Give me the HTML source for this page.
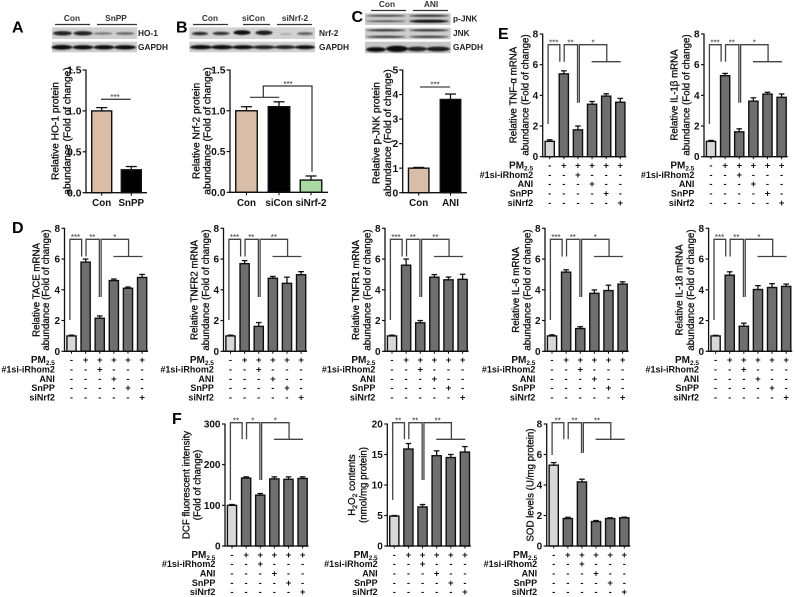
<!DOCTYPE html>
<html>
<head>
<meta charset="utf-8">
<style>
html,body{margin:0;padding:0;background:#fff;}
svg{display:block;filter:blur(0.35px);}
text{font-family:"Liberation Sans",sans-serif;fill:#111;}
</style>
</head>
<body>
<svg id="figure" width="796" height="597" viewBox="0 0 796 597" xmlns="http://www.w3.org/2000/svg">
<defs><filter id="blur" x="-10%" y="-50%" width="120%" height="200%"><feGaussianBlur stdDeviation="0.9"></feGaussianBlur></filter></defs>
</svg>
<script>
// ---- chart data ----
const groupRows = ['PM2.5', '#1si-iRhom2', 'ANI', 'SnPP', 'siNrf2'];
const rowMarks = [
  ['-','+','+','+','+','+'],
  ['-','-','+','-','-','-'],
  ['-','-','-','+','-','-'],
  ['-','-','-','-','+','-'],
  ['-','-','-','-','-','+']
];
const ticks8 = [0, 2, 4, 6, 8];
const ticksDcf = [0, 100, 200, 300];
const ticksH2o2 = [0, 5, 10, 15, 20];

const tnfValues = [1.0, 5.4, 1.75, 3.42, 3.95, 3.55];
const tnfErrors = [0.1, 0.2, 0.25, 0.18, 0.15, 0.25];
const il1Values = [1.0, 5.28, 1.62, 3.62, 4.08, 3.87];
const il1Errors = [0.06, 0.15, 0.2, 0.22, 0.12, 0.22];
const taceValues = [1.0, 5.8, 2.15, 4.6, 4.1, 4.8];
const taceErrors = [0.05, 0.2, 0.15, 0.1, 0.08, 0.2];
const tnfr2Values = [1.0, 5.7, 1.62, 4.75, 4.42, 4.98];
const tnfr2Errors = [0.05, 0.2, 0.25, 0.12, 0.4, 0.2];
const tnfr1Values = [1.0, 5.6, 1.85, 4.82, 4.65, 4.68];
const tnfr1Errors = [0.05, 0.4, 0.15, 0.17, 0.18, 0.33];
const il6Values = [1.0, 5.15, 1.48, 3.77, 3.95, 4.37];
const il6Errors = [0.07, 0.15, 0.12, 0.22, 0.35, 0.15];
const il18Values = [1.0, 4.95, 1.63, 4.02, 4.15, 4.22];
const il18Errors = [0.04, 0.22, 0.2, 0.25, 0.25, 0.15];
const dcfValues = [100, 167, 125, 165, 164, 166];
const dcfErrors = [2, 3, 4, 5, 6, 4];
const h2o2Values = [4.9, 15.9, 6.4, 14.8, 14.5, 15.4];
const h2o2Errors = [0.1, 0.9, 0.4, 0.8, 0.5, 0.9];
const sodValues = [5.3, 1.8, 4.2, 1.6, 1.8, 1.85];
const sodErrors = [0.17, 0.08, 0.18, 0.07, 0.05, 0.04];

const hoCategories = ['Con', 'SnPP'];
const hoValues = [1.0, 0.28];
const hoErrors = [0.04, 0.04];
const hoTicks = ['0.0', '0.5', '1.0', '1.5'];
const nrfCategories = ['Con', 'siCon', 'siNrf-2'];
const nrfValues = [1.0, 1.05, 0.15];
const nrfErrors = [0.05, 0.06, 0.05];
const nrfTicks = ['0.0', '0.5', '1.0', '1.5'];
const jnkCategories = ['Con', 'ANI'];
const jnkValues = [1.0, 3.8];
const jnkErrors = [0.03, 0.22];
const jnkTicks = ['0', '1', '2', '3', '4', '5'];

// ---- helpers ----
const svg = document.getElementById('figure');
const NS = 'http://www.w3.org/2000/svg';
function mk(tag, attrs, name, parent) {
  const e = document.createElementNS(NS, tag);
  for (const k in attrs) e.setAttribute(k, attrs[k]);
  
  
  (parent || svg).appendChild(e);
  return e;
}
function line(x1, y1, x2, y2, color, w, name, parent) {
  return mk('line', {x1, y1, x2, y2, stroke: color, 'stroke-width': w}, name, parent);
}
function text(str, x, y, size, weight, anchor, name, parent, color) {
  const t = mk('text', {x, y, 'font-size': size, 'font-weight': weight, 'text-anchor': anchor}, name, parent);
  if (color) t.setAttribute('style', 'fill:' + color);
  t.textContent = str;
  return t;
}
function vtitle(parts, x, y, size, name) {
  const t = mk('text', {transform: 'translate(' + x + ',' + y + ') rotate(-90)', 'font-size': size, 'text-anchor': 'middle', dy: '0.35em', stroke: '#111', 'stroke-width': 0.3}, name);
  parts.forEach(function (p) {
    const s = document.createElementNS(NS, 'tspan');
    
    
    if (p[1] === 'sub') { s.setAttribute('font-size', size * 0.7); s.setAttribute('dy', '2'); }
    if (p[1] === 'up') { s.setAttribute('dy', '-2'); }
    s.textContent = p[0];
    t.appendChild(s);
  });
  return t;
}

// ---- six-group mRNA style charts ----
const GROUP_STEP = 14.12;
function groupChart(c) {
  const g = mk('g', {}, c.id + '-chart');
  const yAt = function (v) { return c.base - v / c.max * (c.base - c.top); };
  const xAt = function (i) { return c.axis + 7 + i * GROUP_STEP; };
  const right = xAt(5) + 6;
  c.values.forEach(function (v, i) {
    const top = yAt(v), x = xAt(i);
    const er = yAt(v + c.errors[i]);
    line(x, top, x, er, '#111', 1.3, c.id + '-error-stem-' + i, g);
    line(x - 2.8, er, x + 2.8, er, '#111', 1.3, c.id + '-error-cap-' + i, g);
    mk('rect', {x: x - 4.6, y: top, width: 9.2, height: c.base - top, fill: i === 0 ? '#d8d8d8' : '#6f6f6f', stroke: '#111', 'stroke-width': 1.4}, c.id + '-bar-' + i, g);
    line(x, c.base, x, c.base + 2.5, '#111', 1, c.id + '-x-tick-' + i, g);
  });
  line(c.axis, c.top - 0.5, c.axis, c.base + 0.6, '#111', 1.3, c.id + '-y-axis', g);
  line(c.axis - 0.6, c.base, right, c.base, '#111', 1.3, c.id + '-x-axis', g);
  c.ticks.forEach(function (t) {
    const y = yAt(t);
    line(c.axis - 3, y, c.axis, y, '#111', 1.2, c.id + '-y-tick-' + t, g);
    text(String(t), c.axis - 4.5, y + 3.5, 10, 'bold', 'end', c.id + '-y-label-' + t, g);
  });
  // group rows
  groupRows.forEach(function (label, r) {
    const ry = c.base + 8.6 + r * 9.35;
    const t = text('', c.axis - 9.6, ry + 3.2, 9, 'bold', 'end', c.id + '-row-label-' + r, g);
    if (r === 0) {
      t.setAttribute('font-size', '10');
      t.textContent = 'PM';
      const s = document.createElementNS(NS, 'tspan');
      
      
      s.setAttribute('font-size', '6.5');
      s.setAttribute('dy', '2');
      s.textContent = '2.5';
      t.appendChild(s);
    } else {
      t.textContent = label;
    }
    rowMarks[r].forEach(function (m, i) {
      text(m, xAt(i), ry + 3.2, 9.5, 'bold', 'middle', c.id + '-row-' + r + '-mark-' + i, g);
    });
  });
  // significance brackets
  const bt = c.bTop, col = '#444';
  const b = c.br;
  const path = 'M' + (xAt(0) - 1.6) + ' ' + b[0] + 'V' + bt + 'H' + (xAt(1) - 4) + 'V' + b[1] +
    'M' + (xAt(1) + 0.4) + ' ' + b[1] + 'V' + bt + 'H' + (xAt(2) - 0.4) + 'V' + b[2] +
    'M' + (xAt(2) + 1.4) + ' ' + b[2] + 'V' + bt + 'H' + (xAt(4) + 0.6) + 'V' + b[1] +
    'M' + (xAt(3) - 0.4) + ' ' + b[1] + 'H' + (xAt(5) + 0.4);
  mk('path', {d: path, fill: 'none', stroke: col, 'stroke-width': 1.3}, c.id + '-significance-brackets', g);
  const sx = [xAt(0) + 4, xAt(1) + 6.7, xAt(3) + 1];
  c.stars.forEach(function (s, i) {
    text(s, sx[i], bt + 0.6, 8, 'normal', 'middle', c.id + '-stars-' + i, g, '#333');
  });
  // titles
  const mid = c.titleY;
  c.titles.forEach(function (parts, i) {
    vtitle(parts, c.axis + c.titleX[i], mid, 9.7, c.id + '-y-title-' + i);
  });
}
const row1 = {top: 228.3, base: 351.3, bTop: 239.3, br: [320, 256.5, 297], ticks: ticks8, max: 8, titleY: 290, titleX: [-29.3, -18]};
const rowE = {top: 34, base: 156.7, bTop: 44.7, br: [124, 61.7, 102.7], ticks: ticks8, max: 8, titleY: 95, titleX: [-29.8, -17.8]};
const rowF = {top: 424, base: 546, bTop: 422.7, br: [500, 439.3, 480], titleY: 485, max: 8};
function tt(a) { return [[['Relative ' + a + ' mRNA']], [['abundance (Fold of change)']]]; }

groupChart(Object.assign({}, rowE, {id: 'tnf-alpha', axis: 542.7, values: tnfValues, errors: tnfErrors, stars: ['***','**','*'], titles: tt('TNF-\u03B1')}));
groupChart(Object.assign({}, rowE, {id: 'il-1-beta', axis: 704, values: il1Values, errors: il1Errors, stars: ['***','**','*'], titles: tt('IL-1\u03B2')}));
groupChart(Object.assign({}, row1, {id: 'tace', axis: 64.5, titleX: [-28.5, -19], values: taceValues, errors: taceErrors, stars: ['***','**','*'], titles: tt('TACE')}));
groupChart(Object.assign({}, row1, {id: 'tnfr2', axis: 223.5, values: tnfr2Values, errors: tnfr2Errors, stars: ['***','**','**'], titles: tt('TNFR2')}));
groupChart(Object.assign({}, row1, {id: 'tnfr1', axis: 385, values: tnfr1Values, errors: tnfr1Errors, stars: ['***','**','**'], titles: tt('TNFR1')}));
groupChart(Object.assign({}, row1, {id: 'il-6', axis: 545, values: il6Values, errors: il6Errors, stars: ['***','**','*'], titles: tt('IL-6')}));
groupChart(Object.assign({}, row1, {id: 'il-18', axis: 708.6, values: il18Values, errors: il18Errors, stars: ['***','**','*'], titles: tt('IL-18')}));
groupChart(Object.assign({}, rowF, {id: 'dcf', axis: 225, max: 300, ticks: ticksDcf, values: dcfValues, errors: dcfErrors, stars: ['**','*','*'], titleX: [-39, -28], titles: [[['DCF fluorescent intensity']], [['(Fold of change)']]]}));
groupChart(Object.assign({}, rowF, {id: 'h2o2', axis: 387.3, max: 20, ticks: ticksH2o2, values: h2o2Values, errors: h2o2Errors, stars: ['**','**','**'], titleX: [-35.6, -24], titles: [[['H'],['2','sub'],['O','up'],['2','sub'],[' contents','up']], [['(nmol/mg protein)']]]}));
groupChart(Object.assign({}, rowF, {id: 'sod', axis: 546.7, max: 8, ticks: ticks8, values: sodValues, errors: sodErrors, br: [455, 439.3, 453], stars: ['**','**','**'], titleX: [-16.7], titles: [[['SOD levels (U/mg protein)']]]}));

// ---- two/three-group protein charts ----
function proteinChart(c) {
  const g = mk('g', {}, c.id + '-chart');
  const yAt = function (v) { return c.base - v / c.max * (c.base - c.top); };
  c.values.forEach(function (v, i) {
    const x = c.centers[i], top = yAt(v), er = yAt(v + c.errors[i]);
    line(x, top, x, er, '#111', 1.3, c.id + '-error-stem-' + i, g);
    line(x - 5.5, er, x + 5.5, er, '#111', 1.3, c.id + '-error-cap-' + i, g);
    mk('rect', {x: x - c.barW / 2, y: top, width: c.barW, height: c.base - top, fill: c.fills[i], stroke: '#111', 'stroke-width': 1.4}, c.id + '-bar-' + c.categories[i], g);
    line(x, c.base, x, c.base + 3, '#111', 1.1, c.id + '-x-tick-' + i, g);
    text(c.categories[i], x, c.base + 13.5, 9.8, 'bold', 'middle', c.id + '-x-label-' + c.categories[i], g);
  });
  line(c.axis, c.top - 0.5, c.axis, c.base + 0.6, '#111', 1.3, c.id + '-y-axis', g);
  line(c.axis - 0.6, c.base, c.end, c.base, '#111', 1.3, c.id + '-x-axis', g);
  c.ticks.forEach(function (t) {
    const y = yAt(parseFloat(t));
    line(c.axis - 3.5, y, c.axis, y, '#111', 1.2, c.id + '-y-tick-' + t, g);
    text(t, c.axis - 4.5, y + 3.6, 10.3, 'bold', 'end', c.id + '-y-label-' + t, g);
  });
  c.titles.forEach(function (s, i) {
    vtitle([[s]], c.titleX[i], c.titleY, 10.2, c.id + '-y-title-' + i);
  });
}
proteinChart({id: 'ho-1', axis: 86, end: 147, top: 70, base: 192.7, max: 1.5, barW: 20, centers: [101.7, 131.3], fills: ['#d9bda6', '#000'], categories: hoCategories, values: hoValues, errors: hoErrors, ticks: hoTicks, titles: ['Relative HO-1 protein', 'abundance (Fold of change)'], titleX: [55, 66.7], titleY: 131});
proteinChart({id: 'nrf-2', axis: 230, end: 328, top: 70, base: 192.3, max: 1.5, barW: 21.5, centers: [246.5, 279, 311], fills: ['#d9bda6', '#000', '#a9d9a4'], categories: nrfCategories, values: nrfValues, errors: nrfErrors, ticks: nrfTicks, titles: ['Relative Nrf-2 protein', 'abundance (Fold of change)'], titleX: [196, 206.7], titleY: 131});
proteinChart({id: 'p-jnk', axis: 402.7, end: 467, top: 70, base: 192.7, max: 5, barW: 20.5, centers: [418.7, 450.5], fills: ['#d9bda6', '#000'], categories: jnkCategories, values: jnkValues, errors: jnkErrors, ticks: jnkTicks, titles: ['Relative p-JNK protein', 'abundance (Fold of change)'], titleX: [376, 387.3], titleY: 133});

// protein chart significance marks
line(101, 99.3, 130.7, 99.3, '#444', 1.3, 'ho-1-significance-line');
text('***', 115, 100, 8, 'normal', 'middle', 'ho-1-stars', svg, '#333');
mk('path', {d: 'M250 97.3H279.3M263.3 97.3V86H312V171.7', fill: 'none', stroke: '#333', 'stroke-width': 1.2}, 'nrf-2-significance-bracket');
text('***', 288, 87, 8, 'normal', 'middle', 'nrf-2-stars', svg, '#333');
line(420, 87, 450, 87, '#444', 1.3, 'p-jnk-significance-line');
text('***', 435, 87.5, 8, 'normal', 'middle', 'p-jnk-stars', svg, '#333');

// ---- western blots ----
function blot(name, x, y, w, h, bg, bands) {
  const g = mk('g', {}, name);
  mk('rect', {x, y, width: w, height: h, fill: bg}, name + '-membrane', g);
  const f = mk('g', {filter: 'url(#blur)'}, name + '-bands', g);
  bands.forEach(function (b, i) {
    mk('ellipse', {cx: b[0], cy: b[1], rx: b[2], ry: b[3], fill: b[4]}, name + '-band-' + i, f);
  });
}
blot('ho-1-blot', 52, 27.3, 85, 11.7, '#cfcfcf', [[62.5,33.3,9.5,2.2,'#222'],[83,33.3,9.5,2.2,'#222'],[103,33.5,9.5,1.3,'#777'],[125,33.5,9.5,1.4,'#666']]);
blot('ho-1-gapdh-blot', 52, 41.7, 85, 10.6, '#cdcdcd', [[62,47.3,10.5,2.4,'#111'],[83,47.3,10.5,2.2,'#111'],[104,47.3,10.5,2.2,'#111'],[125,47.3,11,2.2,'#111']]);
blot('nrf-2-blot', 189.3, 27.3, 125.7, 11.7, '#d2d2d2', [[200,33.6,8,1.7,'#2a2a2a'],[221,33.4,8.5,1.7,'#333'],[242,32.6,8.5,2.4,'#111'],[264,32.8,8.5,2.3,'#1a1a1a'],[286,34,6,1,'#aaa'],[305,33.6,8,1.6,'#666']]);
blot('nrf-2-gapdh-blot', 189.3, 41.7, 125.7, 10.6, '#d0d0d0', [[201,47.2,11,2.2,'#111'],[222,47.2,11,2.2,'#111'],[243,47.2,11,2.1,'#111'],[264,47.2,11,2,'#222'],[285,47.2,11,1.9,'#222'],[305,47.2,10,2,'#111']]);
blot('p-jnk-blot', 365, 13.3, 85.7, 11.7, '#c9c9c9', [[386,15.8,20,0.8,'#333'],[429,15.8,20,1,'#222'],[386,21.2,20,0.8,'#444'],[429,21.2,20,1.6,'#111']]);
blot('jnk-blot', 365, 27.7, 85.7, 11.6, '#cdcdcd', [[386,30.3,20,1,'#222'],[429,30.3,20,1,'#222'],[386,36.8,20,1,'#333'],[429,36.8,20,1,'#333']]);
blot('p-jnk-gapdh-blot', 365, 41.7, 85.7, 11.6, '#c6c6c6', [[376,49.5,10,2.4,'#111'],[397,48.8,11,3.2,'#111'],[417,49,10,2.4,'#222'],[438,49,12,2.4,'#1a1a1a']]);

// blot group labels and lines
const blotHeaders = [
  ['Con', 72, 21, 55, 90], ['SnPP', 116, 21, 97, 137],
  ['Con', 210, 21, 193, 228], ['siCon', 253.5, 21, 243, 270], ['siNrf-2', 295, 21, 277, 312],
  ['Con', 387, 7, 371, 406], ['ANI', 431, 7, 413, 448]
];
blotHeaders.forEach(function (h, i) {
  text(h[0], h[1], h[2], 8.3, 'bold', 'middle', 'blot-header-' + i, svg, '#333');
  line(h[3], h[2] + 3.5, h[4], h[2] + 3.5, '#333', 1.2, 'blot-header-line-' + i);
});
const blotLabels = [
  ['HO-1', 138, 36], ['GAPDH', 138, 50], ['Nrf-2', 319, 36], ['GAPDH', 319, 50],
  ['p-JNK', 453, 21.5], ['JNK', 453, 36], ['GAPDH', 453, 50]
];
blotLabels.forEach(function (l, i) {
  text(l[0], l[1], l[2], 8.3, 'bold', 'start', 'blot-label-' + i, svg, '#222');
});

// panel letters
const panelLetters = [['A', 12, 32.3], ['B', 176, 32.3], ['C', 351.5, 22], ['D', 12, 233], ['E', 498, 39], ['F', 172, 424]];
panelLetters.forEach(function (p) {
  text(p[0], p[1], p[2], 16, 'bold', 'start', 'panel-letter-' + p[0], svg, '#000');
});
</script>
</body>
</html>
